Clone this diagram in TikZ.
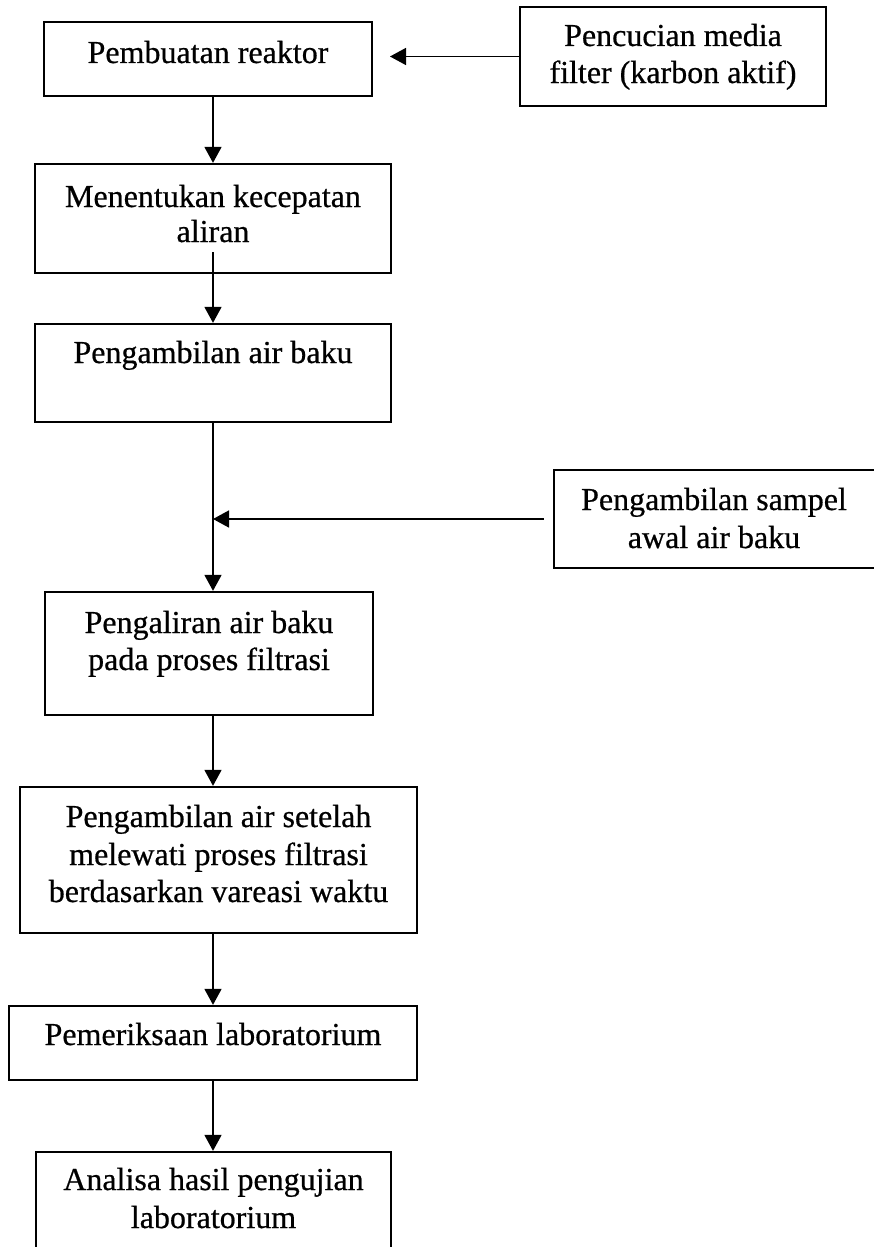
\documentclass[tikz,border=0pt]{standalone}
\usepackage{fontspec}
\setmainfont{Liberation Serif}
\newfontfamily\scanfont{Liberation Serif}[FakeBold=0.6]
\usetikzlibrary{arrows.meta,calc}
\begin{document}
\begin{tikzpicture}[x=1pt,y=-1pt,
  box/.style={draw=black,line width=2.3pt,rectangle,inner sep=0pt},
  txt/.style={anchor=base,inner sep=0pt,font=\scanfont\fontsize{32}{37}\selectfont},
  arr/.style={draw=black,line width=1.6pt,-{Triangle[width=17pt,length=16pt]}},
  conn/.style={draw=black,line width=1.6pt}]
\useasboundingbox (0,0) rectangle (874,1247);
% boxes
\node[box,minimum width=328pt,minimum height=74pt] (b1) at (208,59) {};
\node[box,minimum width=306pt,minimum height=99pt] (r1) at (673,56.5) {};
\node[box,minimum width=356pt,minimum height=109pt] (b2) at (213,218.5) {};
\node[box,minimum width=356pt,minimum height=98pt] (b3) at (213,373) {};
\node[box,minimum width=326pt,minimum height=98pt] (r2) at (717,519) {};
\node[box,minimum width=328pt,minimum height=123pt] (b4) at (209,653.5) {};
\node[box,minimum width=397pt,minimum height=146pt] (b5) at (218.5,860) {};
\node[box,minimum width=408pt,minimum height=74pt] (b6) at (213,1043) {};
\node[box,minimum width=355pt,minimum height=104pt] (b7) at (213.5,1204) {};
% texts
\node[txt] (t1) at (208,63) {Pembuatan reaktor};
\node[txt] (t2a) at (673,46) {Pencucian media};
\node[txt] (t2b) at (673,83) {filter (karbon aktif)};
\node[txt] (t3a) at (213,207) {Menentukan kecepatan};
\node[txt] (t3b) at (213,242) {aliran};
\node[txt] (t4) at (213,363) {Pengambilan air baku};
\node[txt] (t5a) at (714,510) {Pengambilan sampel};
\node[txt] (t5b) at (714,548) {awal air baku};
\node[txt] (t6a) at (209,633) {Pengaliran air baku};
\node[txt] (t6b) at (209,670) {pada proses filtrasi};
\node[txt] (t7a) at (218.5,827) {Pengambilan air setelah};
\node[txt] (t7b) at (218.5,865) {melewati proses filtrasi};
\node[txt] (t7c) at (218.5,902) {berdasarkan vareasi waktu};
\node[txt] (t8) at (213,1045) {Pemeriksaan laboratorium};
\node[txt] (t9a) at (213.5,1190) {Analisa hasil pengujian};
\node[txt] (t9b) at (213.5,1228) {laboratorium};
% connector coordinates
\coordinate (s2) at (213,252);
\coordinate (j) at (213,519);
\coordinate (r1end) at (390,56.5);
\coordinate (r2start) at ($(r2.west)+(-9,0)$);
% connectors
\draw[arr] (r1.west) -- (r1end);
\draw[arr] (b1.south -| b2.north) -- (b2.north);
\draw[arr] (s2) -- (b3.north);
\draw[conn] (b3.south) -- (j);
\draw[arr] (j) -- (b3.south |- b4.north);
\draw[arr] (r2start) -- (j);
\draw[arr] (b3.south |- b4.south) -- (b3.south |- b5.north);
\draw[arr] (b3.south |- b5.south) -- (b6.north);
\draw[arr] (b6.south) -- (b6.south |- b7.north);
\end{tikzpicture}
\end{document}
